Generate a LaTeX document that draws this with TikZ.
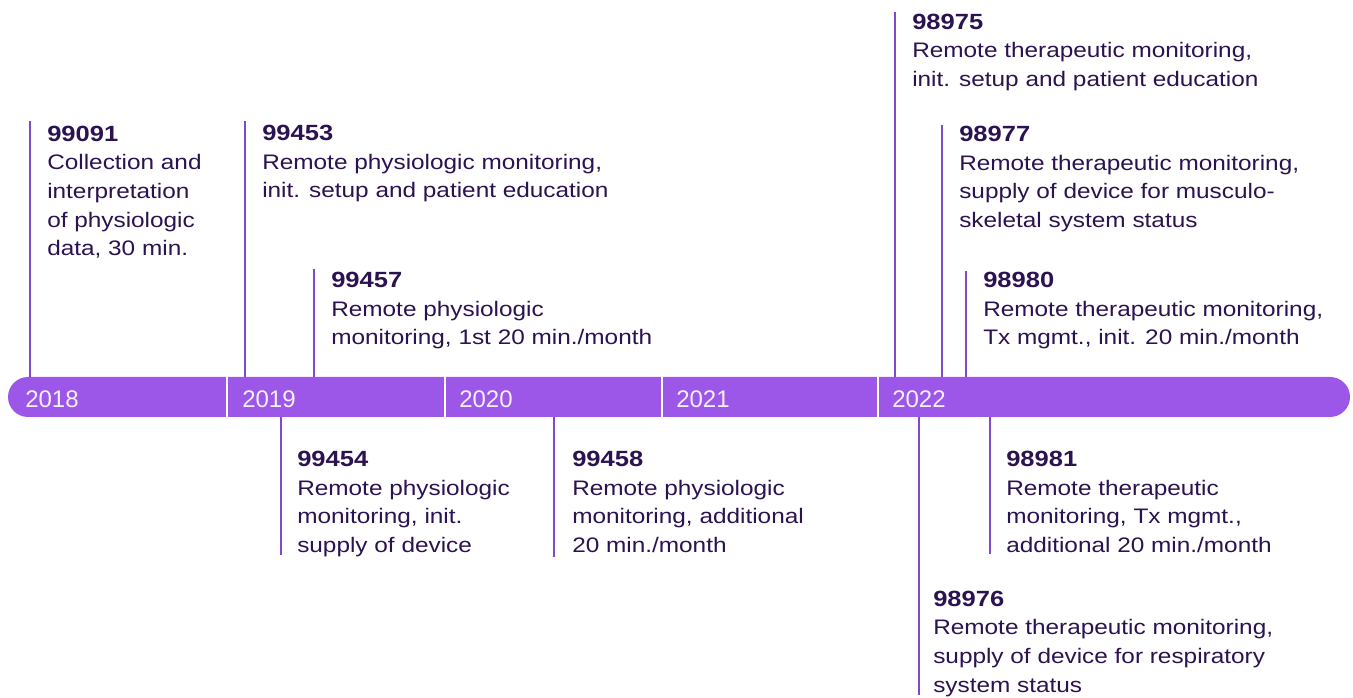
\documentclass[tikz,border=0pt]{standalone}
\usepackage{fontspec}
\setmainfont{Liberation Sans}[FakeStretch=1.16]
\newfontfamily\yearfont{Liberation Sans}
\definecolor{barpurple}{HTML}{9C57E8}
\definecolor{linepurple}{HTML}{8048CF}
\definecolor{textpurple}{HTML}{2B1250}
\definecolor{yearwhite}{HTML}{F7F0FE}
\newcommand\cptcode[1]{{\fontsize{16.5}{21.5}\selectfont\bfseries #1}}
\begin{document}
\begin{tikzpicture}[x=0.75pt,y=-0.75pt,
  entry/.style={anchor=base west, inner sep=0pt, align=left, text=textpurple,
    font=\fontsize{15.75}{21.5}\selectfont},
  leader/.style={draw=linepurple, line width=1.4pt},
  sepline/.style={draw=white, line width=1.6pt},
  yearlabel/.style={anchor=base west, inner sep=0pt, text=yearwhite,
    font=\yearfont\fontsize{18}{20}\selectfont}]
\useasboundingbox (0,0) rectangle (1353,698);
% bar
\node[fill=barpurple, rounded corners=15pt, minimum width=1006.5pt, minimum height=30pt,
  anchor=north west, inner sep=0pt, outer sep=0pt] (bar) at (8,377) {};
% separators
\foreach \sx [count=\i] in {227,445,662,878}{
  \coordinate (s\i) at (\sx,377);
  \draw[sepline] (s\i) -- (s\i |- bar.south);
}
% years
\node[yearlabel] (y2018) at (25,407) {2018};
\node[yearlabel] (y2019) at (242,407) {2019};
\node[yearlabel] (y2020) at (459,407) {2020};
\node[yearlabel] (y2021) at (676,407) {2021};
\node[yearlabel] (y2022) at (892,407) {2022};
% leader end points
\coordinate (a1) at (30,121);
\coordinate (a2) at (245,121);
\coordinate (a3) at (314,269);
\coordinate (a4) at (895,12);
\coordinate (a5) at (942,125);
\coordinate (a6) at (966,271);
\coordinate (b1) at (281,555);
\coordinate (b2) at (554,557);
\coordinate (b3) at (919,695);
\coordinate (b4) at (990,554);
\foreach \c in {a1,a2,a3,a4,a5,a6}{\draw[leader] (\c) -- (\c |- bar.north);}
\foreach \c in {b1,b2,b3,b4}{\draw[leader] (\c |- bar.south) -- (\c);}
% entries above (anchored at the baseline of their last line)
\node[entry] (e99091) at (47,256) {\cptcode{99091}\\Collection and\\interpretation\\of physiologic\\data, 30 min.};
\node[entry] (e99453) at (262,198) {\cptcode{99453}\\Remote physiologic monitoring,\\init. setup and patient education};
\node[entry] (e99457) at (331,345) {\cptcode{99457}\\Remote physiologic\\monitoring, 1st 20 min./month};
\node[entry] (e98975) at (912,86.5) {\cptcode{98975}\\Remote therapeutic monitoring,\\init. setup and patient education};
\node[entry] (e98977) at (959,227.5) {\cptcode{98977}\\Remote therapeutic monitoring,\\supply of device for musculo-\\skeletal system status};
\node[entry] (e98980) at (983,345) {\cptcode{98980}\\Remote therapeutic monitoring,\\Tx mgmt., init. 20 min./month};
% entries below
\node[entry] (e99454) at (297,552.5) {\cptcode{99454}\\Remote physiologic\\monitoring, init.\\supply of device};
\node[entry] (e99458) at (572,552.5) {\cptcode{99458}\\Remote physiologic\\monitoring, additional\\20 min./month};
\node[entry] (e98976) at (933,692) {\cptcode{98976}\\Remote therapeutic monitoring,\\supply of device for respiratory\\system status};
\node[entry] (e98981) at (1006,552.5) {\cptcode{98981}\\Remote therapeutic\\monitoring, Tx mgmt.,\\additional 20 min./month};
\end{tikzpicture}
\end{document}
